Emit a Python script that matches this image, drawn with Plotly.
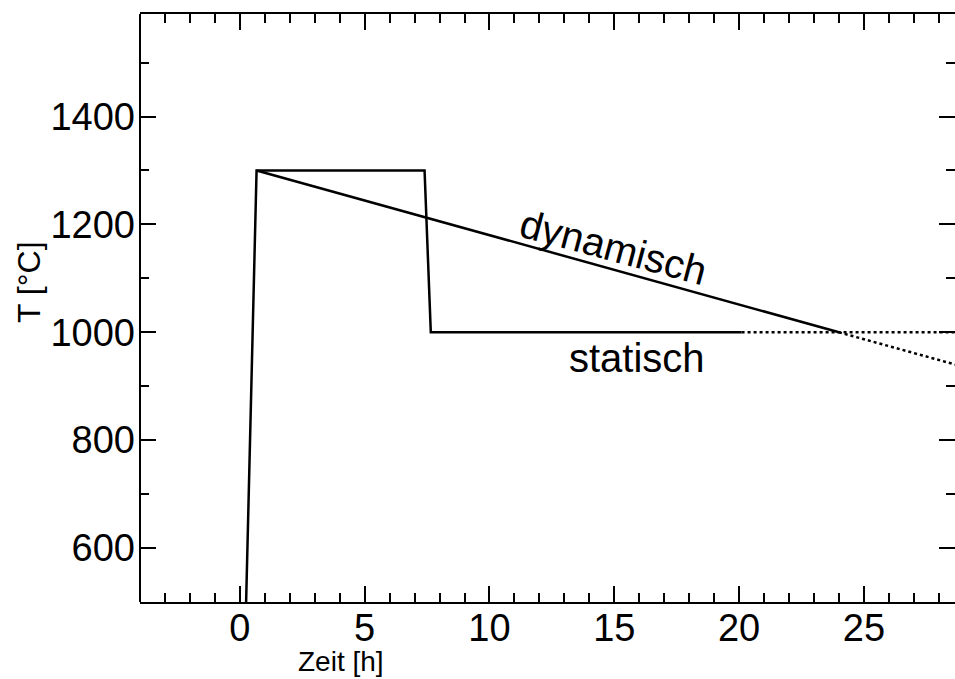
import plotly.graph_objects as go

# ---- data ----
t_stat = [0.0, 0.67, 7.4, 7.65, 20.1]
T_stat = [20, 1300, 1300, 1000, 1000]
t_stat_dot = [20.1, 30.0]
T_stat_dot = [1000, 1000]

t_dyn = [0.67, 24.0]
T_dyn = [1300, 1000]
t_dyn_dot = [24.0, 30.0]
T_dyn_dot = [1000, 923]

x_ticks = [0, 5, 10, 15, 20, 25]
y_ticks = [600, 800, 1000, 1200, 1400]

FONT = "Liberation Sans, Arial, sans-serif"

fig = go.Figure()
line_solid = dict(color="black", width=2.5)
line_dot = dict(color="black", width=2.5, dash="dot")

fig.add_trace(go.Scatter(x=t_stat, y=T_stat, mode="lines", line=line_solid, showlegend=False))
fig.add_trace(go.Scatter(x=t_stat_dot, y=T_stat_dot, mode="lines", line=line_dot, showlegend=False))
fig.add_trace(go.Scatter(x=t_dyn, y=T_dyn, mode="lines", line=line_solid, showlegend=False))
fig.add_trace(go.Scatter(x=t_dyn_dot, y=T_dyn_dot, mode="lines", line=line_dot, showlegend=False))

axis_common = dict(
    showgrid=False, zeroline=False, ticks="inside", ticklen=16, tickwidth=2,
    tickcolor="black", tickfont=dict(family=FONT, size=38, color="black"),
)

fig.update_layout(
    width=955, height=679,
    margin=dict(l=140, r=0, t=14, b=77),
    paper_bgcolor="white", plot_bgcolor="white",
    xaxis=dict(
        range=[-4, 28.65], tickvals=x_ticks, ticktext=[str(v) for v in x_ticks],
        showline=True, linewidth=2, linecolor="black", mirror="ticks",
        minor=dict(dtick=1, tick0=0, ticks="inside", ticklen=9, tickwidth=2, tickcolor="black", showgrid=False),
        ticklabelstandoff=-9,
        **axis_common,
    ),
    yaxis=dict(
        range=[500, 1590], tickvals=y_ticks, ticktext=[str(v) for v in y_ticks],
        showline=False, mirror="ticks",
        minor=dict(dtick=100, tick0=0, ticks="inside", ticklen=9, tickwidth=2, tickcolor="black", showgrid=False),
        ticklabelstandoff=4,
        **axis_common,
    ),
    shapes=[dict(type="line", xref="paper", yref="paper", x0=0, x1=0, y0=0, y1=1,
                 line=dict(color="black", width=2))],
    annotations=[
        dict(text="dynamisch", x=14.95, y=1158, xref="x", yref="y", showarrow=False,
             textangle=15, font=dict(family=FONT, size=40, color="black")),
        dict(text="statisch", x=15.93, y=952, xref="x", yref="y", showarrow=False,
             font=dict(family=FONT, size=40, color="black")),
        dict(text="T [°C]", x=(29 - 140) / 815, y=(602 - 282) / 588, xref="paper", yref="paper",
             xanchor="center", yanchor="middle", showarrow=False,
             textangle=-90, font=dict(family=FONT, size=32, color="black")),
        dict(text="Zeit [h]", x=(341 - 140) / 815, y=(602 - 661) / 588, xref="paper", yref="paper",
             xanchor="center", yanchor="middle", showarrow=False,
             font=dict(family=FONT, size=28, color="black")),
    ],
)

fig.write_html("out.html")
